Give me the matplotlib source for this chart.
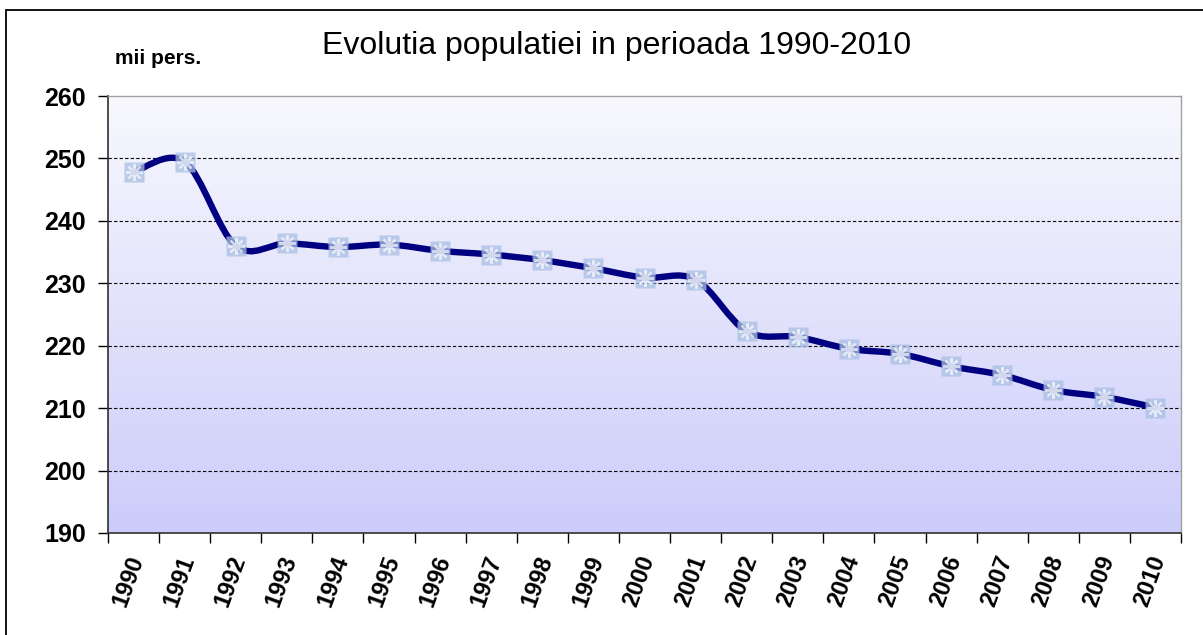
import matplotlib
matplotlib.use("Agg")
import matplotlib.pyplot as plt
import matplotlib.transforms as mtransforms
import numpy as np
from matplotlib.path import Path
from matplotlib.patches import PathPatch, Rectangle

years = [str(y) for y in range(1990, 2011)]
population = [247.8, 249.5, 236.0, 236.4, 235.8, 236.2, 235.2, 234.6, 233.7, 232.4,
              230.9, 230.6, 222.3, 221.4, 219.5, 218.7, 216.7, 215.3, 212.9, 211.8, 210.1]
yticks = [190, 200, 210, 220, 230, 240, 250, 260]
title = "Evolutia populatiei in perioada 1990-2010"
unit_label = "mii pers."

plt.rcParams['font.family'] = ['Liberation Sans', 'DejaVu Sans']

W, H = 1203, 635
fig = plt.figure(figsize=(W / 100, H / 100), dpi=100)
fig.patch.set_facecolor('white')

# outer frame
fig.patches.append(Rectangle((6 / W, -0.1), 1.2, 1 - 10 / H + 0.1, transform=fig.transFigure,
                             fill=False, edgecolor='black', linewidth=1.3, zorder=0))

ax = fig.add_axes([108 / W, (H - 533) / H, (1181 - 108) / W, (533 - 96) / H])
x = np.arange(len(years))
ax.set_xlim(-0.5, len(years) - 0.5)
ax.set_ylim(yticks[0], yticks[-1])

# gradient background
grad = np.linspace(0, 1, 256).reshape(-1, 1)
top = np.array([248, 248, 254]) / 255
bot = np.array([204, 204, 250]) / 255
img = top + (bot - top) * grad[:, :, None] * np.ones((1, 2, 1))
ax.imshow(img, extent=[-0.5, len(years) - 0.5, yticks[0], yticks[-1]], aspect='auto',
          origin='upper', zorder=0, interpolation='bicubic')

# grid
for v in yticks[1:-1]:
    ax.axhline(v, color='black', linestyle=(0, (3, 2)), linewidth=0.8, zorder=1)

# smoothed line (cubic Bezier through data points)
pts = np.column_stack([x, population]).astype(float)
verts = [tuple(pts[0])]
codes = [Path.MOVETO]
n = len(pts)
for i in range(n - 1):
    p0 = pts[i - 1] if i > 0 else pts[i]
    p1 = pts[i]
    p2 = pts[i + 1]
    p3 = pts[i + 2] if i + 2 < n else pts[i + 1]
    c1 = p1 + (p2 - p0) / 6.0
    c2 = p2 - (p3 - p1) / 6.0
    verts += [tuple(c1), tuple(c2), tuple(p2)]
    codes += [Path.CURVE4, Path.CURVE4, Path.CURVE4]
ax.add_patch(PathPatch(Path(verts, codes), facecolor='none', edgecolor='#000080',
                       linewidth=4.6, capstyle='round', joinstyle='round', zorder=3))

# markers
ax.plot(x, population, linestyle='none', marker='s', markersize=14,
        markerfacecolor='#a9bfe3', markeredgecolor='none', alpha=0.75, zorder=4)
ax.plot(x, population, linestyle='none', marker=(8, 2, 0), markersize=12,
        markeredgecolor='white', markeredgewidth=1.6, alpha=0.65, zorder=5)

# spines
for s in ['top', 'right']:
    ax.spines[s].set_color('#a0a0a0')
    ax.spines[s].set_linewidth(1.0)
for s in ['left', 'bottom']:
    ax.spines[s].set_color('#303030')
    ax.spines[s].set_linewidth(1.2)

ax.set_yticks(yticks)
ax.set_yticklabels([str(v) for v in yticks], fontsize=18, fontweight='bold')
ax.tick_params(axis='y', direction='out', length=7, width=1.0, pad=9, colors='black')

ax.set_xticks(np.arange(-0.5, len(years) + 0.5, 1), minor=False)
ax.set_xticklabels([])
ax.tick_params(axis='x', which='major', direction='out', length=7, width=1.0)
ax.set_xticks(x, minor=True)
labels = ax.set_xticklabels(years, minor=True, rotation=70, ha='right', va='center',
                            rotation_mode='anchor', fontsize=17, fontweight='bold')
ax.tick_params(axis='x', which='minor', length=0, pad=17)
offset = mtransforms.ScaledTranslation(4 / 100, 0, fig.dpi_scale_trans)
for lab in labels:
    lab.set_transform(lab.get_transform() + offset)

fig.text(617 / W, 1 - 46 / H, title, ha='center', va='center', fontsize=23)
fig.text(158 / W, 1 - 58 / H, unit_label, ha='center', va='center', fontsize=15,
         fontweight='bold')

fig.savefig('out.png', dpi=100)
